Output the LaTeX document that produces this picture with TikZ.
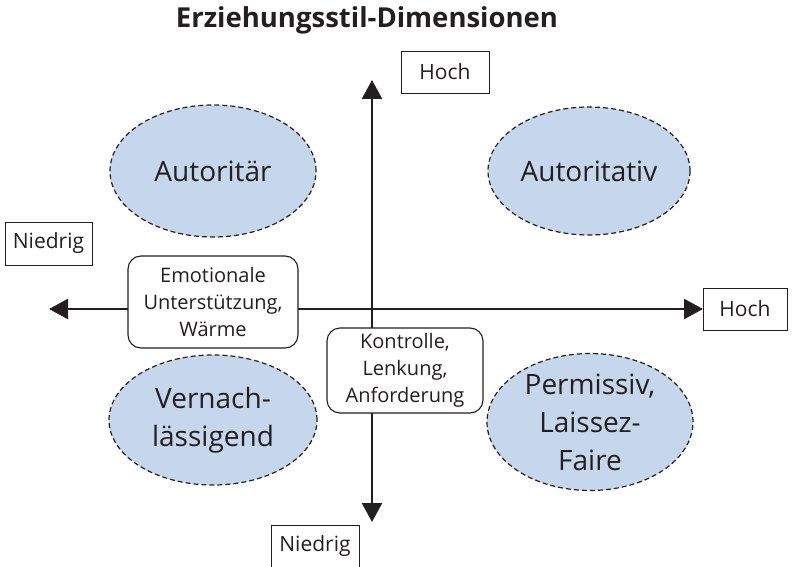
\documentclass[tikz,border=0pt]{standalone}
\usepackage{fontspec}
\setmainfont{Open Sans}
\usetikzlibrary{shapes.geometric,arrows.meta}
\definecolor{ellfill}{RGB}{198,214,236}
\definecolor{ink}{RGB}{35,31,32}
\begin{document}
\begin{tikzpicture}[x=1pt,y=-1pt,
  ell/.style={ellipse,draw=ink,fill=ellfill,dashed,dash pattern=on 5pt off 3pt,line width=1.2pt,inner sep=0pt,align=center,text=ink,font=\fontsize{28}{38}\selectfont},
  lbl/.style={rectangle,draw=ink,line width=0.9pt,fill=white,inner sep=0pt,text=ink,font=\fontsize{21}{26}\selectfont},
  rbox/.style={rectangle,rounded corners=13pt,draw=ink,line width=1.1pt,fill=white,inner sep=0pt,align=center,text=ink,font=\fontsize{20}{27}\selectfont},
  axis/.style={draw=ink,line width=2.3pt,{Triangle[length=19pt,width=20pt]}-{Triangle[length=19pt,width=20pt]}}]
\useasboundingbox (0,0) rectangle (792,567);
% axis end points
\coordinate (xl) at (49,309);
\coordinate (xr) at (703,309);
\coordinate (yt) at (372,80);
\coordinate (yb) at (372,522);
\draw[axis] (xl) -- (xr);
\draw[axis] (yt) -- (yb);
% title
\node[anchor=base,text=ink,font=\bfseries\fontsize{27.5}{32}\selectfont] (title) at (367,28) {Erziehungsstil-Dimensionen};
% axis labels
\node[lbl,minimum width=88pt,minimum height=42pt] (hochT) at (445,72) {Hoch};
\node[lbl,minimum width=84pt,minimum height=42pt] (hochR) at (745,309) {Hoch};
\node[lbl,minimum width=87pt,minimum height=43pt] (niedL) at (48.5,243.5) {Niedrig};
\node[lbl,minimum width=88pt,minimum height=42pt] (niedB) at (315,546) {Niedrig};
% axis name boxes
\node[rbox,minimum width=170pt,minimum height=92pt] (emo) at (213,302) {Emotionale\\Unterstützung,\\Wärme};
\node[rbox,minimum width=156pt,minimum height=85pt] (kon) at (405,370.5) {Kontrolle,\\Lenkung,\\Anforderung};
% styles
\node[ell,minimum width=206pt,minimum height=132pt] (autor) at (213,171) {Autoritär};
\node[ell,minimum width=202pt,minimum height=128pt] (autiv) at (589,171) {Autoritativ};
\node[ell,minimum width=208pt,minimum height=130pt] (vern) at (213,420) {Vernach-\\lässigend};
\node[ell,minimum width=206pt,minimum height=128pt] (perm) at (590,422) {Permissiv,\\Laissez-\\Faire};
\end{tikzpicture}
\end{document}
